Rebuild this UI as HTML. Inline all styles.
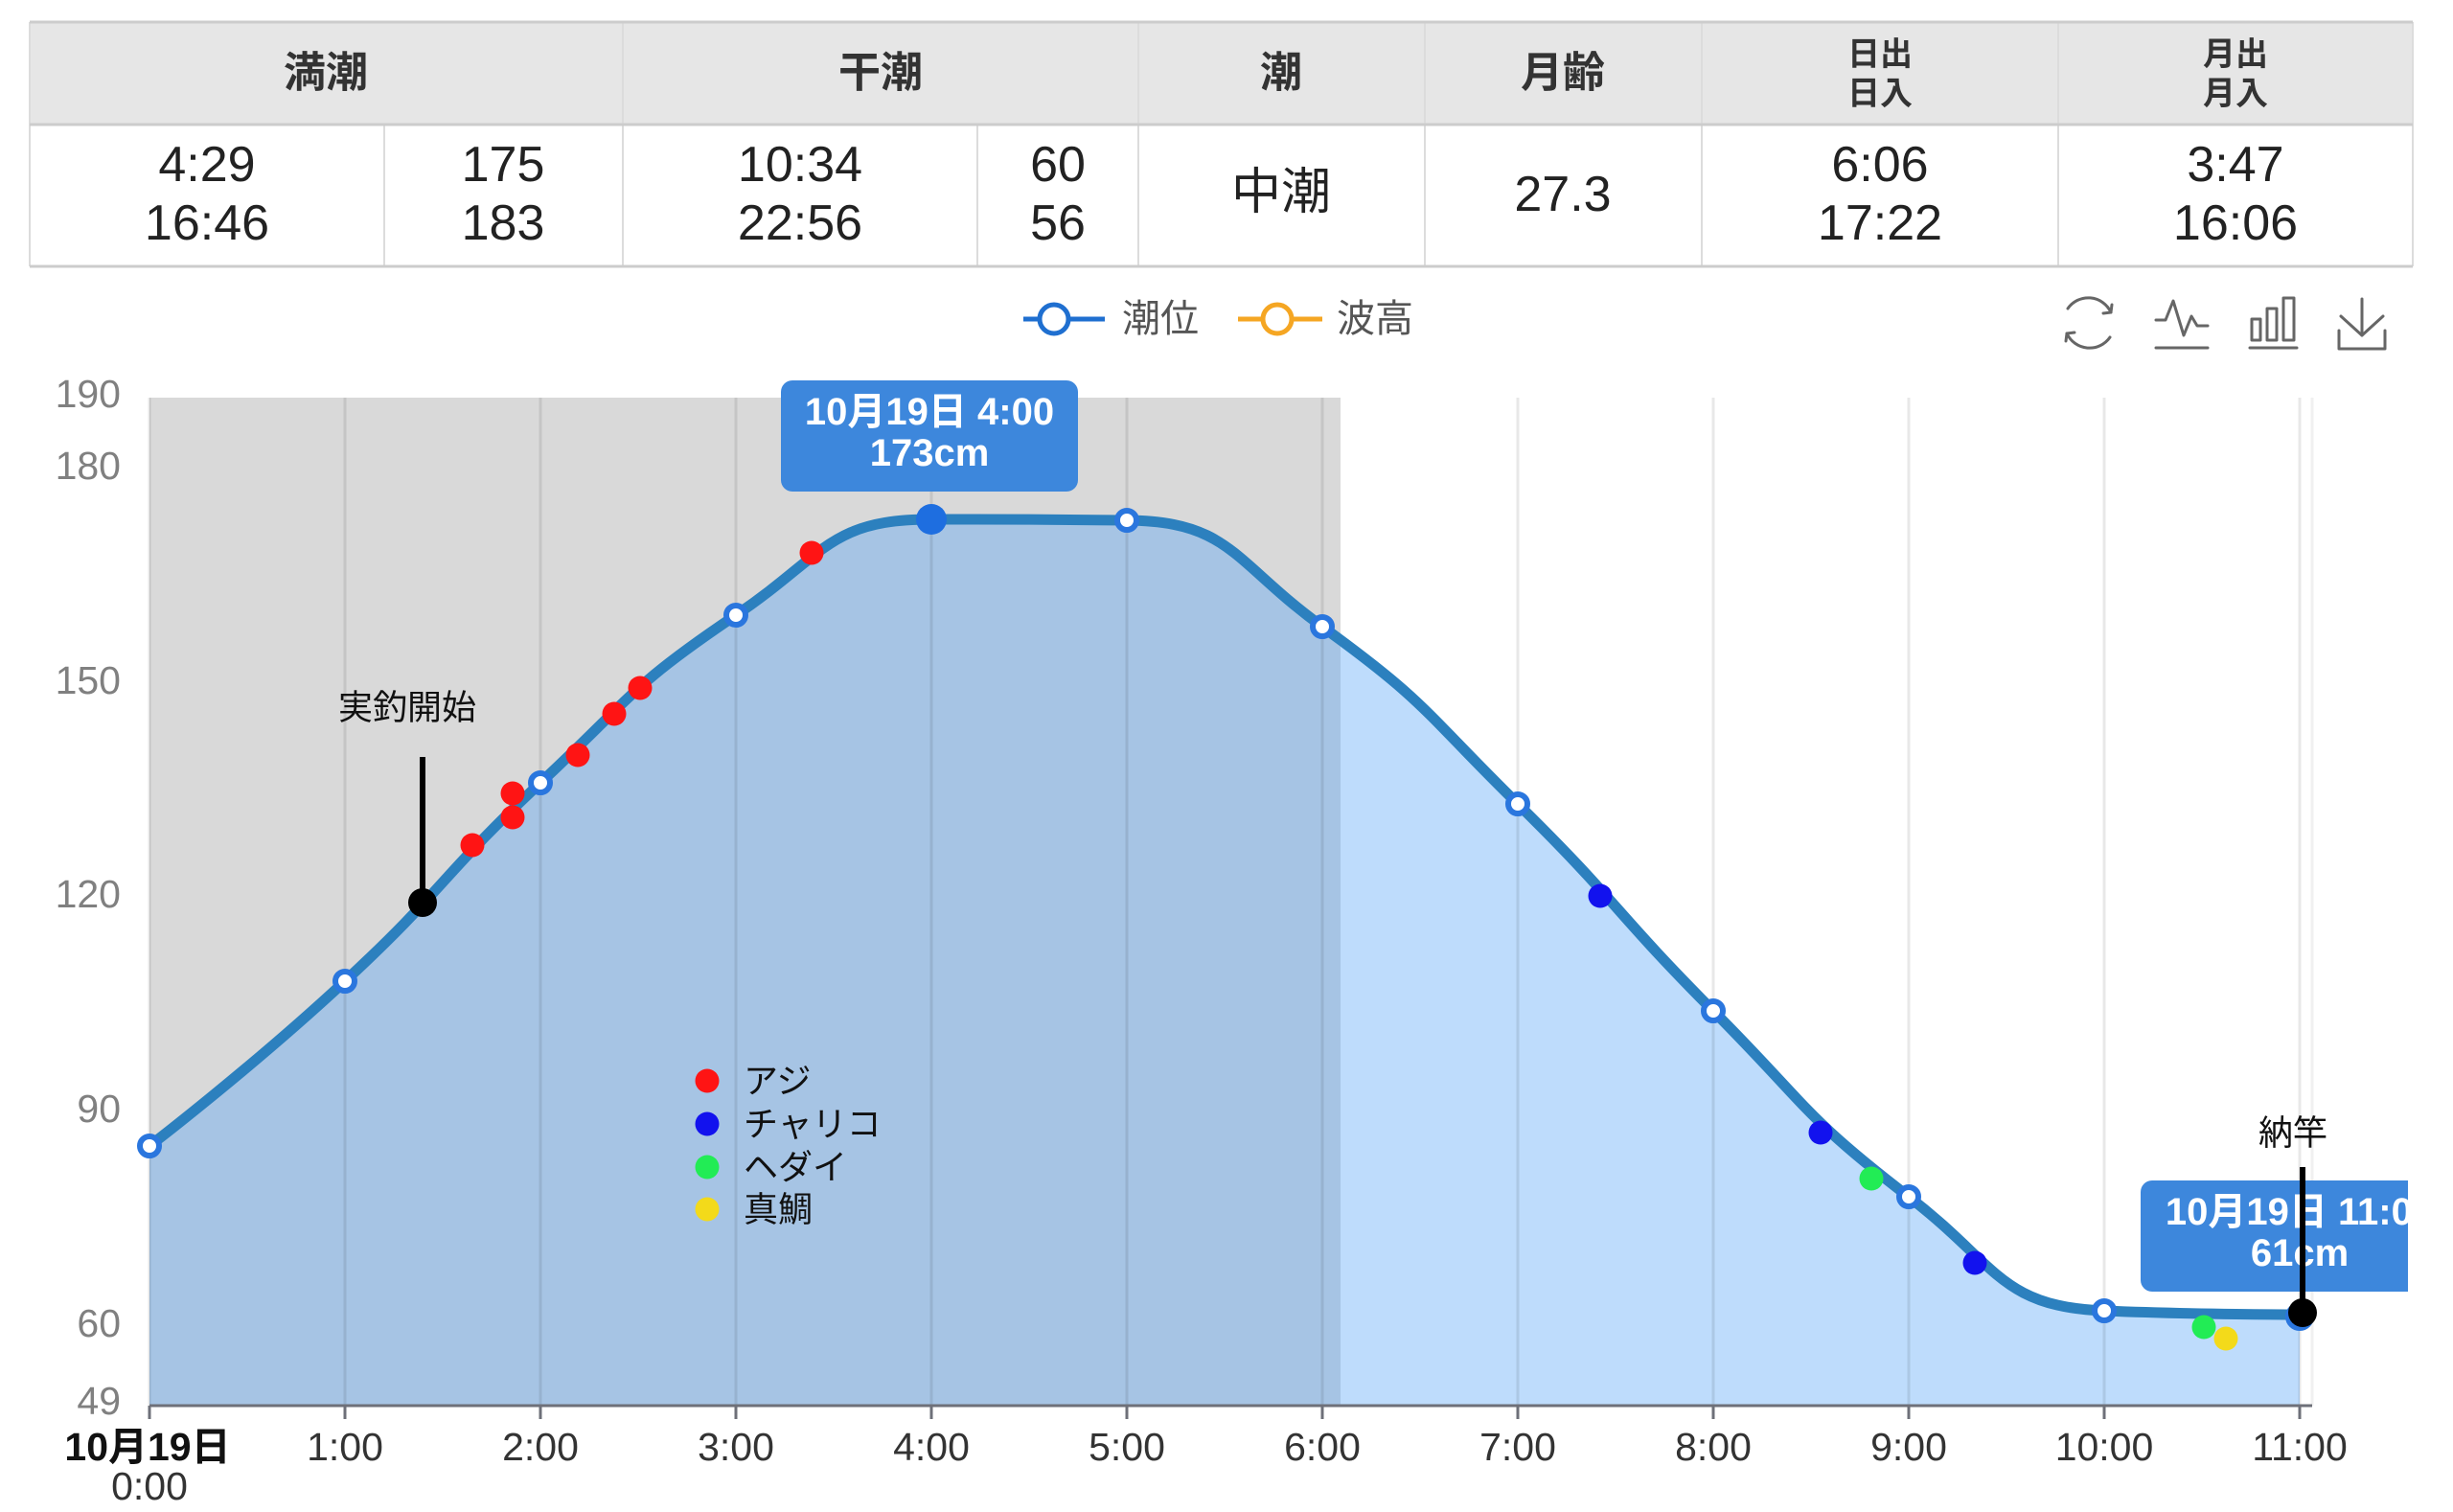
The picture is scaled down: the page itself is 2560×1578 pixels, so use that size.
<!DOCTYPE html>
<html>
<head>
<meta charset="utf-8">
<style>
html,body{margin:0;padding:0;background:#fff;}
body{width:2560px;height:1578px;overflow:hidden;}
svg{display:block;}
text{font-family:"Liberation Sans","Noto Sans CJK JP",sans-serif;}
</style>
</head>
<body>
<svg width="2560" height="1578" viewBox="0 0 2560 1578" xmlns="http://www.w3.org/2000/svg">
<defs>
<clipPath id="cv"><rect x="0" y="0" width="2513" height="1578"/></clipPath>
</defs>

<!-- ===== TABLE ===== -->
<rect x="31" y="23" width="2487" height="107" fill="#e6e6e6"/>
<rect x="31" y="130" width="2487" height="148" fill="#ffffff"/>
<g stroke="#dcdcdc" stroke-width="2">
<line x1="650" y1="23" x2="650" y2="278"/>
<line x1="1188" y1="23" x2="1188" y2="278"/>
<line x1="1487" y1="23" x2="1487" y2="278"/>
<line x1="1776" y1="23" x2="1776" y2="278"/>
<line x1="2148" y1="23" x2="2148" y2="278"/>
<line x1="401" y1="130" x2="401" y2="278"/>
<line x1="1020" y1="130" x2="1020" y2="278"/>
<line x1="31" y1="23" x2="31" y2="278"/>
<line x1="2518" y1="23" x2="2518" y2="278"/>
</g>
<g stroke="#cccccc" stroke-width="3">
<line x1="31" y1="23" x2="2518" y2="23"/>
<line x1="31" y1="130" x2="2518" y2="130"/>
<line x1="31" y1="278" x2="2518" y2="278"/>
</g>
<g fill="#333" font-weight="bold" text-anchor="middle" dominant-baseline="central">
<text x="340" y="76" font-size="44">満潮</text>
<text x="919" y="76" font-size="44">干潮</text>
<text x="1337" y="76" font-size="44">潮</text>
<text x="1631" y="76" font-size="44">月齢</text>
<text x="1962" y="57" font-size="34">日出</text>
<text x="1962" y="98" font-size="34">日入</text>
<text x="2333" y="57" font-size="34">月出</text>
<text x="2333" y="98" font-size="34">月入</text>
</g>
<g fill="#222" text-anchor="middle" dominant-baseline="central" font-size="52">
<text x="216" y="172">4:29</text><text x="216" y="233">16:46</text>
<text x="525" y="172">175</text><text x="525" y="233">183</text>
<text x="835" y="172">10:34</text><text x="835" y="233">22:56</text>
<text x="1104" y="172">60</text><text x="1104" y="233">56</text>
<text x="1337" y="201">中潮</text>
<text x="1631" y="203">27.3</text>
<text x="1962" y="172">6:06</text><text x="1962" y="233">17:22</text>
<text x="2333" y="172">3:47</text><text x="2333" y="233">16:06</text>
</g>

<!-- ===== LEGEND ===== -->
<g fill="none" stroke-width="5">
<line x1="1068" y1="333" x2="1153" y2="333" stroke="#1f6fd0"/>
<circle cx="1100" cy="333" r="15" fill="#fff" stroke="#1f6fd0"/>
<line x1="1292" y1="333" x2="1380" y2="333" stroke="#f5a623"/>
<circle cx="1333" cy="333" r="15" fill="#fff" stroke="#f5a623"/>
</g>
<g fill="#555" font-size="40" dominant-baseline="central">
<text x="1171" y="333">潮位</text>
<text x="1395" y="333">波高</text>
</g>

<!-- ===== TOOLBOX ===== -->
<g fill="none" stroke="#666" stroke-width="3" stroke-linecap="round" stroke-linejoin="round">
<path d="M2158,322 A26,26 0 0 1 2203,326"/>
<path d="M2203,326 l1,-8 M2203,326 l-8,1"/>
<path d="M2202,352 A26,26 0 0 1 2157,348"/>
<path d="M2157,348 l-1,8 M2157,348 l8,-1"/>
<path d="M2250,334 L2260,334 L2268,314 L2279,350 L2287,330 L2293,340 L2304,340"/>
<line x1="2250" y1="363" x2="2304" y2="363"/>
<rect x="2350" y="333" width="9" height="22"/>
<rect x="2366" y="322" width="10" height="33"/>
<rect x="2383" y="311" width="11" height="44"/>
<line x1="2348" y1="363" x2="2397" y2="363"/>
<line x1="2465" y1="312" x2="2465" y2="350"/>
<path d="M2443,330 L2465,350 L2487,330"/>
<path d="M2441,345 L2441,364 L2489,364 L2489,345"/>
</g>

<!-- ===== CHART ===== -->
<g clip-path="url(#cv)">
<rect x="156" y="415" width="1243" height="1052" fill="#d9d9d9"/>

<path d="M156,1196 C156,1196 262.3,1114.7 360,1024 C466.4,925.2 458.1,916.2 564,817 C662.0,725.2 657.4,716.5 768,642 C861.5,579.0 864.5,542 972,542 C1068.5,542 1080.6,542 1176,543 C1284.6,544.1 1286.7,586.3 1380,654 C1490.7,734.3 1485.8,742.5 1584,839 C1689.9,943.1 1683.3,949.8 1788,1055 C1887.2,1154.7 1881.0,1163.9 1992,1249 C2085.1,1320.4 2086.5,1363.4 2196,1368 C2290.6,1372 2400,1372 2400,1372 L2400,1467 L156,1467 Z" fill="rgba(79,160,247,0.37)"/>

<g stroke="rgba(0,0,0,0.09)" stroke-width="3">
<line x1="156" y1="415" x2="156" y2="1467"/>
<line x1="360" y1="415" x2="360" y2="1467"/>
<line x1="564" y1="415" x2="564" y2="1467"/>
<line x1="768" y1="415" x2="768" y2="1467"/>
<line x1="972" y1="415" x2="972" y2="1467"/>
<line x1="1176" y1="415" x2="1176" y2="1467"/>
<line x1="1380" y1="415" x2="1380" y2="1467"/>
<line x1="1584" y1="415" x2="1584" y2="1467"/>
<line x1="1788" y1="415" x2="1788" y2="1467"/>
<line x1="1992" y1="415" x2="1992" y2="1467"/>
<line x1="2196" y1="415" x2="2196" y2="1467"/>
<line x1="2400" y1="415" x2="2400" y2="1467"/>
<line x1="2413" y1="415" x2="2413" y2="1467" stroke="rgba(0,0,0,0.06)"/>
</g>

<!-- axis -->
<line x1="156" y1="1467" x2="2413" y2="1467" stroke="#6e7079" stroke-width="3"/>
<g stroke="#6e7079" stroke-width="3">
<line x1="156" y1="1467" x2="156" y2="1481"/>
<line x1="360" y1="1467" x2="360" y2="1481"/>
<line x1="564" y1="1467" x2="564" y2="1481"/>
<line x1="768" y1="1467" x2="768" y2="1481"/>
<line x1="972" y1="1467" x2="972" y2="1481"/>
<line x1="1176" y1="1467" x2="1176" y2="1481"/>
<line x1="1380" y1="1467" x2="1380" y2="1481"/>
<line x1="1584" y1="1467" x2="1584" y2="1481"/>
<line x1="1788" y1="1467" x2="1788" y2="1481"/>
<line x1="1992" y1="1467" x2="1992" y2="1481"/>
<line x1="2196" y1="1467" x2="2196" y2="1481"/>
<line x1="2400" y1="1467" x2="2400" y2="1481"/>
</g>

<!-- tide line -->
<path d="M156,1196 C156,1196 262.3,1114.7 360,1024 C466.4,925.2 458.1,916.2 564,817 C662.0,725.2 657.4,716.5 768,642 C861.5,579.0 864.5,542 972,542 C1068.5,542 1080.6,542 1176,543 C1284.6,544.1 1286.7,586.3 1380,654 C1490.7,734.3 1485.8,742.5 1584,839 C1689.9,943.1 1683.3,949.8 1788,1055 C1887.2,1154.7 1881.0,1163.9 1992,1249 C2085.1,1320.4 2086.5,1363.4 2196,1368 C2290.6,1372 2400,1372 2400,1372" fill="none" stroke="#2c80be" stroke-width="11" stroke-linejoin="round" stroke-linecap="round"/>

<!-- hollow points -->
<g fill="#fff" stroke="#2a76de" stroke-width="6">
<circle cx="156" cy="1196" r="10"/>
<circle cx="360" cy="1024" r="10"/>
<circle cx="564" cy="817" r="10"/>
<circle cx="768" cy="642" r="10"/>
<circle cx="1176" cy="543" r="10"/>
<circle cx="1380" cy="654" r="10"/>
<circle cx="1584" cy="839" r="10"/>
<circle cx="1788" cy="1055" r="10"/>
<circle cx="1992" cy="1249" r="10"/>
<circle cx="2196" cy="1368" r="10"/>
<circle cx="2400" cy="1374" r="12"/>
</g>
<circle cx="972" cy="542" r="16" fill="#1e6ee0"/>

<!-- fish dots -->
<g fill="#ff1414">
<circle cx="493" cy="882" r="12.5"/>
<circle cx="535" cy="853" r="12.5"/>
<circle cx="535" cy="828" r="12.5"/>
<circle cx="603" cy="788" r="12.5"/>
<circle cx="641" cy="745" r="12.5"/>
<circle cx="668" cy="718" r="12.5"/>
<circle cx="847" cy="577" r="12.5"/>
</g>
<g fill="#1212ee">
<circle cx="1670" cy="935" r="12.5"/>
<circle cx="1900" cy="1182" r="12.5"/>
<circle cx="2061" cy="1318" r="12.5"/>
</g>
<g fill="#22ec55">
<circle cx="1953" cy="1230" r="12.5"/>
<circle cx="2300" cy="1385" r="12.5"/>
</g>
<circle cx="2323" cy="1397" r="12.5" fill="#f3da1a"/>

<!-- fish legend -->
<circle cx="738" cy="1128" r="12.5" fill="#ff1414"/>
<circle cx="738" cy="1173" r="12.5" fill="#1212ee"/>
<circle cx="738" cy="1218" r="12.5" fill="#22ec55"/>
<circle cx="738" cy="1262" r="12.5" fill="#f3da1a"/>
<g fill="#111" font-size="36" dominant-baseline="central">
<text x="776" y="1128">アジ</text>
<text x="776" y="1173">チャリコ</text>
<text x="776" y="1218">ヘダイ</text>
<text x="776" y="1262">真鯛</text>
</g>

<!-- tooltip 1 -->
<rect x="815" y="397" width="310" height="116" rx="12" fill="#3d87dc"/>
<g fill="#fff" font-weight="bold" font-size="40" text-anchor="middle" dominant-baseline="central">
<text x="970" y="430">10月19日 4:00</text>
<text x="970" y="473">173cm</text>
</g>

<!-- tooltip 2 -->
<rect x="2234" y="1232" width="332" height="116" rx="12" fill="#3d87dc"/>
<g fill="#fff" font-weight="bold" font-size="40" text-anchor="middle" dominant-baseline="central">
<text x="2400" y="1265">10月19日 11:00</text>
<text x="2400" y="1308">61cm</text>
</g>

<!-- markers -->
<text x="425" y="738" font-size="36" fill="#111" text-anchor="middle" dominant-baseline="central">実釣開始</text>
<line x1="441" y1="790" x2="441" y2="942" stroke="#000" stroke-width="6"/>
<circle cx="441" cy="942" r="15" fill="#000"/>
<text x="2393" y="1182" font-size="36" fill="#111" text-anchor="middle" dominant-baseline="central">納竿</text>
<line x1="2403" y1="1218" x2="2403" y2="1370" stroke="#000" stroke-width="6"/>
<circle cx="2403" cy="1370" r="15" fill="#000"/>
</g>

<!-- y labels -->
<g fill="#808080" font-size="41" text-anchor="end" dominant-baseline="central">
<text x="126" y="411">190</text>
<text x="126" y="486">180</text>
<text x="126" y="710">150</text>
<text x="126" y="933">120</text>
<text x="126" y="1157">90</text>
<text x="126" y="1381">60</text>
<text x="126" y="1462">49</text>
</g>

<!-- x labels -->
<g fill="#333" font-size="41" text-anchor="middle" dominant-baseline="central">
<text x="154" y="1510" font-weight="bold" fill="#111">10月19日</text>
<text x="156" y="1551">0:00</text>
<text x="360" y="1510">1:00</text>
<text x="564" y="1510">2:00</text>
<text x="768" y="1510">3:00</text>
<text x="972" y="1510">4:00</text>
<text x="1176" y="1510">5:00</text>
<text x="1380" y="1510">6:00</text>
<text x="1584" y="1510">7:00</text>
<text x="1788" y="1510">8:00</text>
<text x="1992" y="1510">9:00</text>
<text x="2196" y="1510">10:00</text>
<text x="2400" y="1510">11:00</text>
</g>
</svg>
</body>
</html>
